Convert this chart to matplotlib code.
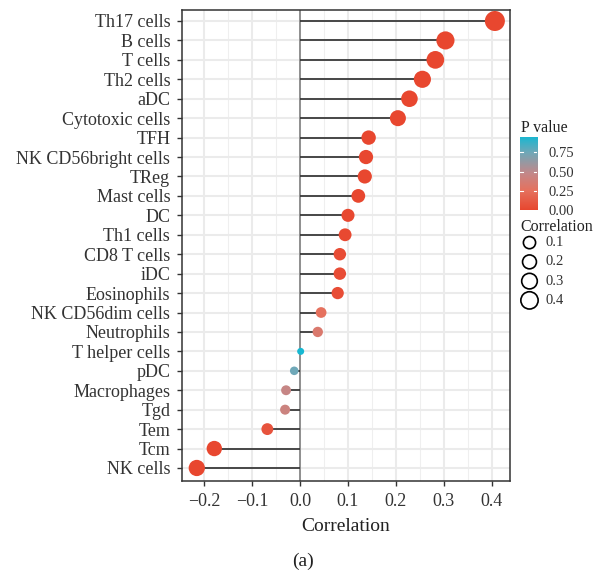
import numpy as np
import matplotlib
matplotlib.use("Agg")
import matplotlib.pyplot as plt
from matplotlib.colors import LinearSegmentedColormap, Normalize
from matplotlib.ticker import MultipleLocator

plt.rcParams['font.family'] = ['Liberation Serif', 'DejaVu Serif']

# immune cell infiltration vs. gene expression (Spearman)
cells = ["Th17 cells", "B cells", "T cells", "Th2 cells", "aDC", "Cytotoxic cells",
         "TFH", "NK CD56bright cells", "TReg", "Mast cells", "DC", "Th1 cells",
         "CD8 T cells", "iDC", "Eosinophils", "NK CD56dim cells", "Neutrophils",
         "T helper cells", "pDC", "Macrophages", "Tgd", "Tem", "Tcm", "NK cells"]
corr = [0.406, 0.303, 0.282, 0.255, 0.228, 0.204,
        0.143, 0.1375, 0.135, 0.1215, 0.100, 0.094,
        0.083, 0.083, 0.0785, 0.044, 0.037,
        0.0014, -0.012, -0.029, -0.031, -0.068, -0.1785, -0.215]
pval = [0.0, 0.0, 0.0, 0.0, 0.0, 0.0,
        0.0, 0.0, 0.0, 0.001, 0.009, 0.014,
        0.03, 0.03, 0.04, 0.25, 0.33,
        0.95, 0.74, 0.45, 0.42, 0.075, 0.0, 0.0]
size_breaks = [0.1, 0.2, 0.3, 0.4]
pval_ticks = [0.0, 0.25, 0.50, 0.75]

corr = np.array(corr)
pval = np.array(pval)
ypos = np.arange(len(cells))

cmap = LinearSegmentedColormap.from_list(
    "pv", [(0.0, "#E8472F"), (0.27, "#E5725F"), (0.5, "#C2888A"),
           (0.78, "#6FA8B8"), (1.0, "#16B8D2")])
norm = Normalize(vmin=0, vmax=pval.max())

def dot_area(r):
    d_px = 6.2 + 21.7 * np.sqrt(np.abs(r))
    return (d_px * 0.72) ** 2

W, H = 593, 574
fig = plt.figure(figsize=(W / 100, H / 100), dpi=100)
ax = fig.add_axes([182 / W, (H - 481) / H, (510 - 182) / W, (481 - 10) / H])

ax.set_xlim(-0.2458, 0.4375)
ax.set_ylim(len(cells) - 1 + 0.67, -0.566)
ax.xaxis.set_major_locator(MultipleLocator(0.1))
ax.xaxis.set_minor_locator(MultipleLocator(0.05))
ax.set_yticks(ypos)
ax.set_yticklabels(cells)

ax.grid(which='major', color='#EBEBEB', linewidth=1.5, zorder=0)
ax.grid(which='minor', axis='x', color='#EFEFEF', linewidth=0.8, zorder=0)
ax.set_axisbelow(True)

ax.axvline(0, color='#7F7F7F', linewidth=1.2, zorder=1)
ax.hlines(ypos, 0, corr, color='#333333', linewidth=1.25, zorder=2)
ax.scatter(corr, ypos, s=dot_area(corr), c=pval, cmap=cmap, norm=norm,
           edgecolors='none', zorder=3)

for sp in ax.spines.values():
    sp.set_color('#333333')
    sp.set_linewidth(1.1)
ax.tick_params(which='major', length=3.5, width=1.0, color='#333333',
               labelcolor='#333333', labelsize=13, pad=5)
ax.tick_params(which='minor', length=0)
ax.xaxis.set_major_formatter(matplotlib.ticker.FuncFormatter(
    lambda v, _: f"{v:.1f}".replace('-', '\u2212')))
ax.set_xlabel("Correlation", fontsize=14, color='#222222', labelpad=6)

fig.text(303 / W, 1 - 561 / H, "(a)", fontsize=14, ha='center', va='center',
         color='#222222')

# colour bar for p value
cax = fig.add_axes([520 / W, (H - 210) / H, 17 / W, 73 / H])
grad = np.linspace(0, pval.max(), 256).reshape(-1, 1)
cax.imshow(grad, aspect='auto', origin='lower', cmap=cmap, norm=norm,
           extent=[0, 1, 0, pval.max()])
cax.set_xlim(0, 1)
cax.set_ylim(0, pval.max())
for t in pval_ticks[1:]:
    cax.plot([0, 0.2], [t, t], color='white', linewidth=0.8)
    cax.plot([0.8, 1], [t, t], color='white', linewidth=0.8)
cax.set_xticks([])
cax.yaxis.tick_right()
cax.set_yticks(pval_ticks)
cax.set_yticklabels([f"{t:.2f}" for t in pval_ticks])
cax.tick_params(axis='y', length=0, pad=8, labelsize=10.5, labelcolor='#333333')
for sp in cax.spines.values():
    sp.set_visible(False)
fig.text(521 / W, 1 - 128 / H, "P value", fontsize=11.5, va='center',
         color='#222222')

# size legend for correlation
fig.text(520 / W, 1 - 227 / H, "Correlation", fontsize=11.5, va='center',
         color='#222222')
sax = fig.add_axes([520 / W, (H - 310) / H, 73 / W, 77 / H])
sax.set_xlim(0, 1)
sax.set_ylim(len(size_breaks) - 0.5, -0.5)
sax.axis('off')
leg_d = 10.5 + 17 * np.array(size_breaks)
sax.scatter(np.full(len(size_breaks), 0.13), np.arange(len(size_breaks)),
            s=(leg_d * 0.72) ** 2, facecolors='none', edgecolors='black',
            linewidths=1.2)
for i, b in enumerate(size_breaks):
    sax.text(0.356, i, f"{b:.1f}", fontsize=10.5, va='center', color='#333333')

fig.savefig("out.png", dpi=100)
